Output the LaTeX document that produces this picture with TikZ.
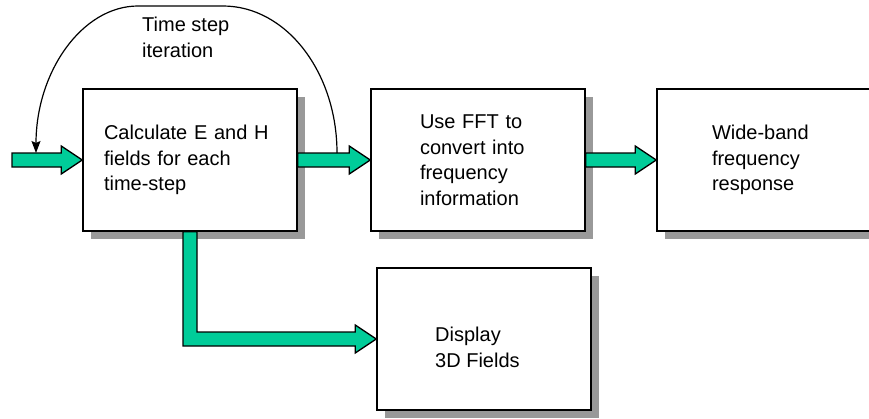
\documentclass[tikz,border=0pt]{standalone}
\usepackage{fontspec}
\setmainfont{Liberation Sans}
\usepackage{tikz}
\usetikzlibrary{shadows, arrows.meta, calc}

\definecolor{flowgreen}{HTML}{00CC99}
\definecolor{shadowgray}{HTML}{999999}

\tikzset{
  stepbox/.style={draw, line width=1.5pt, fill=white, minimum width=214, minimum height=142,
    align=left, inner sep=0pt,
    drop shadow={shadow xshift=8pt, shadow yshift=-8pt, fill=shadowgray, opacity=1}},
  fatarrow/.style={draw, line width=1.3pt, fill=flowgreen, line join=miter},
}

% straight block arrow between two points
\newcommand{\fatarrow}[2]{%
  \draw[fatarrow] ($(#1)+(0,-7)$) -- ($(#2)+(-21,-7)$) -- ($(#2)+(-21,-14)$) -- (#2)
    -- ($(#2)+(-21,14)$) -- ($(#2)+(-21,7)$) -- ($(#1)+(0,7)$) -- cycle;}

\begin{document}
\begin{tikzpicture}[x=1pt, y=-1pt, font=\fontsize{20}{25.5}\selectfont]
  \useasboundingbox (0,0) rectangle (869,418);

  % Boxes
  \node[stepbox, text width=172] (calc) at (190,160) {Calculate E and H\\fields for each\\time-step};
  \node[stepbox, text width=116] (fft) at (478,160) {Use FFT to\\convert into\\frequency\\information};
  \node[stepbox, text width=104] (wide) at (764,160) {Wide-band\\frequency\\response};
  \node[stepbox] (disp) at (484,339) {};
  \node[anchor=base west, align=left, inner sep=0pt] (disptext) at (435,367) {Display\\3D Fields};

  % Block arrows
  \coordinate (in) at (12,160);
  \fatarrow{in}{calc.west}
  \fatarrow{calc.east}{fft.west}
  \fatarrow{fft.east}{wide.west}
  \draw[fatarrow] let \p1=(calc.south), \p2=(disp.west) in
    (\x1-7pt,\y1) -- (\x1-7pt,\y2-7pt) -- (\x2-21pt,\y2-7pt) -- (\x2-21pt,\y2-14pt) -- (\p2)
    -- (\x2-21pt,\y2+14pt) -- (\x2-21pt,\y2+7pt) -- (\x1+7pt,\y2+7pt) -- (\x1+7pt,\y1) -- cycle;

  % Iteration loop
  \coordinate (loopstart) at (337,153);
  \coordinate (loopend) at (36,153);
  \draw[line width=1.2pt, -{Stealth[length=12pt, width=9pt, inset=2pt]}] (loopstart)
    .. controls (337,72) and (286,6) .. (223,6) -- (138,6)
    .. controls (82,6) and (36,72) .. (loopend);
  \node[anchor=base west, align=left, inner sep=0pt] (iterlabel) at (142,57) {Time step\\iteration};
\end{tikzpicture}
\end{document}
